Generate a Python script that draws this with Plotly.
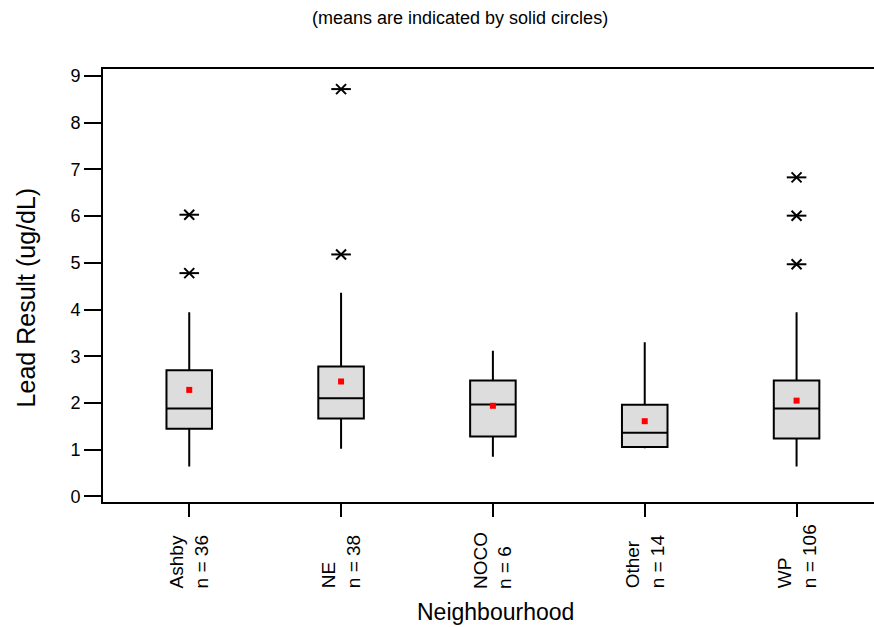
import plotly.graph_objects as go

categories = ["Ashby", "NE", "NOCO", "Other", "WP"]
counts = [36, 38, 6, 14, 106]
q1 = [1.45, 1.67, 1.28, 1.06, 1.24]
median = [1.88, 2.10, 1.97, 1.36, 1.88]
q3 = [2.70, 2.78, 2.48, 1.96, 2.48]
whisker_low = [0.64, 1.02, 0.85, 1.03, 0.64]
whisker_high = [3.94, 4.36, 3.12, 3.30, 3.94]
means = [2.28, 2.46, 1.94, 1.61, 2.05]
outlier_cat = ["Ashby", "Ashby", "NE", "NE", "WP", "WP", "WP"]
outlier_val = [6.03, 4.78, 8.72, 5.18, 6.83, 6.01, 4.97]
y_ticks = [0, 1, 2, 3, 4, 5, 6, 7, 8, 9]

FONT = "Liberation Sans, Arial, sans-serif"
W, H = 874, 627
ml, mr, mt, mb = 102.5, 0, 69, 124.7
pw = W - ml - mr
ph = H - mt - mb


def px_x(x):
    return (x - ml) / pw


def px_y(y):
    return (H - mb - y) / ph


fig = go.Figure()
fig.add_trace(go.Box(
    x=categories, q1=q1, median=median, q3=q3,
    lowerfence=whisker_low, upperfence=whisker_high,
    width=0.30, whiskerwidth=0,
    fillcolor="#DDDDDD", line=dict(color="black", width=2),
    boxpoints=False, showlegend=False, hoverinfo="skip",
))
fig.add_trace(go.Scatter(
    x=outlier_cat, y=outlier_val, mode="markers",
    marker=dict(symbol="x-thin-open", size=10, color="black", line=dict(color="black", width=2)),
    showlegend=False, hoverinfo="skip",
))
fig.add_trace(go.Scatter(
    x=outlier_cat, y=outlier_val, mode="markers",
    marker=dict(symbol="line-ew-open", size=14, color="black", line=dict(color="black", width=2)),
    showlegend=False, hoverinfo="skip",
))
fig.add_trace(go.Scatter(
    x=categories, y=means, mode="markers",
    marker=dict(symbol="square", size=6, color="#FF0000", line=dict(width=0)),
    showlegend=False, hoverinfo="skip",
))

# category labels (rotated, bottom-aligned like the original)
for c, n in zip(categories, counts):
    fig.add_annotation(
        x=c, xref="x", y=px_y(591), yref="paper",
        text=f"{c}<br>n = {n}", textangle=-90, align="left",
        showarrow=False, xanchor="center", yanchor="bottom",
        font=dict(family=FONT, size=19, color="black"),
    )

fig.add_annotation(
    x=px_x(460), y=px_y(18), xref="paper", yref="paper",
    text="(means are indicated by solid circles)",
    showarrow=False, xanchor="center", yanchor="middle",
    font=dict(family=FONT, size=18, color="black"),
)
fig.add_annotation(
    x=px_x(495), y=px_y(612), xref="paper", yref="paper",
    text="Neighbourhood",
    showarrow=False, xanchor="center", yanchor="middle",
    font=dict(family=FONT, size=23, color="black"),
)
fig.add_annotation(
    x=px_x(25), y=px_y(298), xref="paper", yref="paper",
    text="Lead Result (ug/dL)", textangle=-90,
    showarrow=False, xanchor="center", yanchor="middle",
    font=dict(family=FONT, size=25, color="black"),
)

fig.update_layout(
    width=W, height=H,
    margin=dict(l=ml, r=mr, t=mt, b=mb, pad=0),
    paper_bgcolor="white", plot_bgcolor="white",
    font=dict(family=FONT, color="black"),
    showlegend=False,
)
fig.update_xaxes(
    type="category", categoryorder="array", categoryarray=categories,
    range=[-0.568, 4.51],
    showline=True, mirror=True, linecolor="black", linewidth=2,
    ticks="outside", ticklen=13, tickwidth=2, tickcolor="black",
    showticklabels=False, showgrid=False, zeroline=False,
)
fig.update_yaxes(
    range=[-0.12, 9.15], tickvals=y_ticks,
    showline=True, mirror=False, linecolor="black", linewidth=2,
    ticks="outside", ticklen=17, tickwidth=2, tickcolor="black",
    tickfont=dict(family=FONT, size=18), showgrid=False, zeroline=False,
)

fig.write_html("out.html")
